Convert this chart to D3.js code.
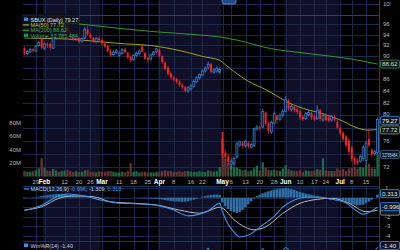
<!DOCTYPE html>
<html>
<head>
<script src="https://d3js.org/d3.v7.min.js"></script>
<style>
  body { margin: 0; background: #000; }
  svg { display: block; font-family: "Liberation Sans", Arial, sans-serif; }
</style>
</head>
<body>
<div id="chart"></div>
<script>
// trading days shown (month number, day numbers)
var months = [
  { m: 1, days: [23,24,25,26,29,30,31] },
  { m: 2, days: [1,2,5,6,7,8,9,12,13,14,15,16,20,21,22,23,26,27,28,29] },
  { m: 3, days: [1,4,5,6,7,8,11,12,13,14,15,18,19,20,21,22,25,26,27,28] },
  { m: 4, days: [1,2,3,4,5,8,9,10,11,12,15,16,17,18,19,22,23,24,25,26,29,30] },
  { m: 5, days: [1,2,3,6,7,8,9,10,13,14,15,16,17,20,21,22,23,24,28,29,30,31] },
  { m: 6, days: [3,4,5,6,7,10,11,12,13,14,17,18,20,21,24,25,26,27,28] },
  { m: 7, days: [1,2,3,5,8,9,10,11,12,15,16,17,18,19] }
];

var tickDates  = ["1-29","2-1","2-12","2-20","2-26","3-1","3-11","3-18","3-25","4-1","4-8","4-16","4-22","5-1","5-6","5-13","5-20","5-28","6-3","6-10","6-17","6-24","7-1","7-8","7-15"];
var tickLabels = ["29","Feb","12","20","26","Mar","11","18","25","Apr","8","16","22","May","6","13","20","28","Jun","10","17","24","Jul","8","15"];

var open = [91.5,90.5,90.8,91.3,91.0,92.0,93.2,91.5,92.2,92.3,91.5,93.4,94.0,93.8,94.5,95.7,94.5,93.5,93.2,93.4,92.8,93.4,95.0,94.0,93.4,92.7,93.3,
  93.0,92.3,91.9,91.0,90.3,90.7,90.2,90.5,91.3,90.6,89.9,89.4,90.2,90.5,91.8,90.6,89.7,89.5,90.3,90.8,
  91.2,90.0,88.9,88.0,87.0,86.2,86.0,85.6,85.0,84.6,84.0,84.3,84.7,85.5,86.2,86.7,87.4,88.0,88.6,87.2,87.4,87.2,
  76.2,74.2,73.6,72.4,72.5,73.5,75.3,75.6,75.2,75.6,75.0,75.2,77.8,78.0,78.1,80.4,78.7,77.3,78.7,79.8,79.3,80.0,
  80.6,82.4,80.9,81.3,80.9,80.6,79.7,79.4,80.0,80.3,79.8,79.4,80.8,79.2,79.8,79.6,79.2,79.7,78.9,
  78.0,77.2,76.6,76.0,74.9,73.4,73.0,72.9,73.3,73.0,76.2,74.6,74.0,74.2];
var close = [90.4,90.9,91.3,91.0,91.9,92.6,91.6,92.3,92.0,91.6,93.5,94.0,93.8,94.6,95.8,94.6,93.6,93.1,93.6,92.7,93.3,95.0,94.1,93.5,92.8,93.3,93.0,
  92.4,91.8,91.0,90.2,90.8,91.0,90.6,91.2,90.8,89.8,89.3,90.2,90.6,91.0,90.9,89.6,89.4,90.3,90.8,91.4,
  90.0,89.0,87.8,86.9,86.3,85.9,85.5,85.0,84.6,84.0,84.5,84.8,85.6,86.2,86.8,87.4,87.9,88.6,87.3,87.6,87.9,87.7,
  74.0,73.5,72.8,72.9,73.3,75.5,75.8,75.2,75.9,75.1,75.4,77.8,78.1,77.9,80.6,78.6,77.5,78.8,80.2,79.2,80.0,80.6,
  82.5,81.0,81.4,80.8,80.5,79.6,79.3,80.2,80.4,79.6,79.2,80.8,79.4,79.9,79.2,79.1,79.8,79.3,78.0,
  77.1,76.2,75.3,74.3,73.2,72.7,72.6,73.6,75.0,75.6,75.3,73.9,74.3,79.27];
var high = [91.8,91.2,91.6,91.5,92.1,92.9,93.7,92.5,92.6,92.5,93.8,94.3,94.4,94.9,96.2,96.0,94.8,93.9,93.9,93.6,93.5,95.5,95.6,94.3,93.6,93.6,93.7,
  93.3,92.6,92.1,91.3,91.1,91.4,90.9,91.5,91.6,90.9,90.1,90.4,90.9,91.3,92.1,90.8,89.9,90.5,91.0,91.6,
  91.4,90.2,89.1,88.3,87.3,86.5,86.2,85.8,85.3,84.8,84.8,85.1,85.9,86.5,87.0,87.7,88.2,89.1,88.8,87.9,88.2,88.0,
  77.3,74.6,74.0,73.3,73.6,75.8,76.0,75.9,76.1,75.9,75.7,78.0,78.4,78.3,81.0,80.6,78.9,79.1,80.6,80.0,80.3,81.0,
  83.1,82.6,81.7,81.6,81.2,80.9,80.0,80.5,80.7,80.5,80.1,81.6,81.0,80.1,80.0,79.9,80.0,80.0,79.2,
  78.2,77.5,76.9,76.4,75.2,73.6,73.3,73.9,75.3,76.0,77.8,74.8,74.6,79.6];
var low = [90.2,90.2,90.6,90.7,90.8,91.8,91.3,91.2,91.6,91.2,91.4,93.1,93.5,93.6,94.3,94.2,93.3,92.8,92.9,92.4,92.5,93.2,93.8,93.2,92.5,92.4,92.6,
  92.1,91.5,90.7,89.9,90.0,90.4,89.9,90.3,90.5,89.5,89.0,89.2,89.9,90.2,90.7,89.3,89.0,89.3,90.1,90.5,
  89.8,88.7,87.5,86.6,86.0,85.6,85.2,84.7,84.3,83.7,83.6,84.0,84.5,85.3,85.9,86.5,87.1,87.7,87.0,86.9,87.1,86.9,
  73.4,73.0,72.4,71.8,72.1,73.3,75.0,74.9,74.9,74.8,74.7,75.0,77.5,77.6,77.9,78.3,77.1,77.0,78.5,78.6,79.0,79.6,
  80.4,80.7,80.5,80.4,80.1,79.2,79.0,79.2,79.7,79.2,79.0,79.2,79.0,78.9,79.0,78.8,78.9,79.0,77.7,
  76.8,75.9,74.9,73.9,72.8,72.3,72.3,72.7,72.9,72.1,75.0,73.6,73.7,73.9];
// volume, millions
var volume = [8,7,7,8,9,12,27,13,9,8,11,9,7,8,9,10,8,7,8,7,7,9,10,7,7,6,8,
  7,7,8,8,7,6,6,7,6,8,20,7,8,6,7,7,6,6,6,7,
  7,8,9,8,8,7,7,8,7,8,8,7,7,7,8,7,7,9,8,7,8,14,
  66,26,20,16,14,13,11,9,10,8,9,12,16,9,21,13,10,9,10,9,8,12,
  17,11,9,8,8,9,7,9,8,8,9,11,10,27,9,8,8,8,12,
  10,11,8,12,13,14,12,14,13,15,19,12,11,32.8];

// moving averages, read at sample days (day index)
var ma50Days = [0,8,15,26,35,44,50,57,62,68,70,73,78,84,88,92,99,104,107,111,114,117,120,123];
var ma50 = [93.4,93.3,93.2,92.7,92.3,92.0,91.5,90.7,90.0,89.3,88.5,87.3,85.6,84.2,83.1,82.0,80.8,80.2,79.7,79.0,78.3,77.8,77.6,77.72];
var ma200Days = [0,15,30,45,60,68,74,86,96,104,113,123];
var ma200 = [97.0,96.3,95.4,94.6,94.0,93.6,93.0,91.4,90.7,90.2,89.6,88.62];

// MACD(12,26,9)
var macdDays = [0,6,12,15,22,26,32,40,46,52,57,60,64,68,69,71,73,75,78,83,87,90,94,98,103,107,112,116,118,120,123];
var macd = [-1.36,-0.8,0.2,0.38,0.1,-0.22,-0.55,-0.66,-0.8,-1.3,-1.9,-1.8,-1.4,-0.6,-1.5,-2.8,-3.6,-4.1,-3.9,-2.85,-1.95,-1.0,-0.25,0.03,0.03,-0.18,-0.56,-1.45,-1.74,-1.55,-0.996];
var signalDays = [0,6,12,17,24,30,38,46,54,61,64,68,69,73,77,80,84,90,96,102,107,113,119,123];
var signal = [-1.29,-0.95,-0.07,0.17,0.09,-0.43,-0.59,-0.77,-1.3,-1.62,-1.4,-1.0,-1.1,-2.3,-3.1,-3.35,-3.05,-1.64,-0.59,-0.18,-0.07,-0.59,-1.47,-1.309];
var hist = [-0.05,-0.02,0.02,0.05,0.08,0.1,0.15,0.2,0.25,0.3,0.33,0.36,0.38,0.38,0.35,0.3,0.25,0.2,0.15,0.1,0.05,0.05,0.05,0.0,-0.03,-0.05,-0.08,
  -0.08,-0.06,-0.05,-0.04,-0.03,-0.02,-0.02,-0.01,0.0,0.01,0.0,-0.02,-0.03,-0.04,-0.05,-0.06,-0.08,-0.1,-0.12,-0.14,
  -0.16,-0.2,-0.25,-0.3,-0.34,-0.37,-0.4,-0.42,-0.43,-0.42,-0.38,-0.3,-0.22,-0.12,-0.02,0.08,0.15,0.22,0.28,0.3,0.32,0.3,
  -0.5,-0.9,-1.2,-1.4,-1.5,-1.6,-1.5,-1.3,-1.0,-0.7,-0.4,-0.1,0.15,0.3,0.45,0.55,0.65,0.75,0.82,0.88,0.93,0.97,
  1.0,0.95,0.88,0.8,0.7,0.6,0.5,0.42,0.35,0.28,0.22,0.16,0.1,0.06,0.03,0.01,-0.02,-0.06,-0.12,
  -0.2,-0.3,-0.42,-0.55,-0.65,-0.74,-0.8,-0.8,-0.75,-0.6,-0.42,-0.22,0.0,0.313];

// Williams %R(14), read at turning days
var wmDays = [0,14,22,40,56,64,69,75,83,86,91,100,112,117,123];
var wm = [-40,-10,-25,-60,-90,-3,-95,-70,-4,-30,-2,-45,-95,-60,-1.4];

// axis ticks (labels hidden behind value boxes are left out)
var priceTicks = [72,74,76,78,80,82,84,86,88,90,92,94,96,100];
var priceLabels = [72,76,80,82,84,86,90,92,94,96,100];
var volTicks = [20, 40, 60, 80];
var macdTicks = [1, 0, -1, -2, -3, -4];
var macdLabels = [1, -2, -3, -4];

var W = 400, H = 250;
var left = 23, right = 379;

var dates = [];
months.forEach(function (mo) {
    mo.days.forEach(function (d) { dates.push(mo.m + "-" + d); });
});

var svg = d3.select("#chart").append("svg")
    .attr("width", W).attr("height", H);

svg.append("rect").attr("width", W).attr("height", H).attr("fill", "#000");

var x = d3.scaleBand().domain(dates).range([left, right]).padding(0);
var bw = x.bandwidth();
function xc(k) { return x(dates[k]) + bw / 2; }

var y = d3.scaleLog().domain([72, 100]).range([167.4, 4]);
var vy = d3.scaleLinear().domain([0, 80]).range([176.5, 122.5]);
var my = d3.scaleLinear().domain([-4, 1]).range([236, 188]);
var wy = d3.scaleLinear().domain([-100, 0]).range([292, 246.5]);

var panels = [[0, 177], [186, 241], [242, 250]];

// month shading (every other month)
months.forEach(function (mo, i) {
    if (i % 2 === 0) return;
    var x0 = x(mo.m + "-" + mo.days[0]);
    var x1 = x(mo.m + "-" + mo.days[mo.days.length - 1]) + bw;
    panels.forEach(function (p) {
        svg.append("rect").attr("x", x0).attr("y", p[0])
            .attr("width", x1 - x0).attr("height", p[1] - p[0])
            .attr("fill", "#0f0f27");
    });
});

var gridColor = "#16294a";

// vertical grid
tickDates.forEach(function (d) {
    var gx = Math.round(x(d) + bw / 2) + 0.5;
    panels.forEach(function (p) {
        svg.append("line").attr("x1", gx).attr("x2", gx).attr("y1", p[0]).attr("y2", p[1])
            .attr("stroke", gridColor);
    });
});

// price grid
svg.selectAll(".pg").data(priceTicks).enter().append("line")
    .attr("x1", left).attr("x2", right)
    .attr("y1", function (d) { return Math.round(y(d)) + 0.5; })
    .attr("y2", function (d) { return Math.round(y(d)) + 0.5; })
    .attr("stroke", gridColor);

svg.append("line").attr("x1", left).attr("x2", right).attr("y1", 15.5).attr("y2", 15.5)
    .attr("stroke", "#2c3f60");

// macd grid
svg.selectAll(".mg").data(macdTicks).enter().append("line")
    .attr("x1", left).attr("x2", right)
    .attr("y1", function (d) { return Math.round(my(d)) + 0.5; })
    .attr("y2", function (d) { return Math.round(my(d)) + 0.5; })
    .attr("stroke", gridColor);

// panel frames
svg.append("line").attr("x1", right + 0.5).attr("x2", right + 0.5).attr("y1", 0).attr("y2", H)
    .attr("stroke", "#23406a");
svg.append("line").attr("x1", left).attr("x2", right).attr("y1", 186.5).attr("y2", 186.5)
    .attr("stroke", "#1d3357");
svg.append("line").attr("x1", left).attr("x2", right).attr("y1", 241.5).attr("y2", 241.5)
    .attr("stroke", "#1d3357");

// clips
var defs = svg.append("defs");
defs.append("clipPath").attr("id", "cp").append("rect")
    .attr("x", left).attr("y", 0).attr("width", right - left).attr("height", 177);
defs.append("clipPath").attr("id", "cm").append("rect")
    .attr("x", left).attr("y", 186).attr("width", right - left).attr("height", 55);
defs.append("clipPath").attr("id", "cw").append("rect")
    .attr("x", left).attr("y", 242).attr("width", right - left).attr("height", 8);
defs.append("clipPath").attr("id", "cl").append("rect")
    .attr("x", 380).attr("y", 0).attr("width", 10.5).attr("height", 10);

// volume
var gp = svg.append("g").attr("clip-path", "url(#cp)");
gp.selectAll(".vol").data(volume).enter().append("rect")
    .attr("x", function (d, i) { return x(dates[i]) + 0.3; })
    .attr("width", bw - 0.6)
    .attr("y", function (d) { return vy(d); })
    .attr("height", function (d) { return vy(0) - vy(d); })
    .attr("fill", function (d, i) { return close[i] >= open[i] ? "#1f6a45" : "#663434"; });

// moving averages
var line = d3.line().curve(d3.curveMonotoneX);
gp.append("path")
    .attr("d", line(ma200Days.map(function (k, i) { return [xc(k), y(ma200[i])]; })))
    .attr("fill", "none").attr("stroke", "#2f9a2f").attr("stroke-width", 1);
gp.append("path")
    .attr("d", line(ma50Days.map(function (k, i) { return [xc(k), y(ma50[i])]; })))
    .attr("fill", "none").attr("stroke", "#a3a021").attr("stroke-width", 1);

// candles
var candles = gp.selectAll(".c").data(dates).enter().append("g");
candles.append("line")
    .attr("x1", function (d, i) { return xc(i); })
    .attr("x2", function (d, i) { return xc(i); })
    .attr("y1", function (d, i) { return y(high[i]); })
    .attr("y2", function (d, i) { return y(low[i]); })
    .attr("stroke", function (d, i) { return close[i] >= open[i] ? "#3f86d8" : "#ff2222"; })
    .attr("stroke-width", 0.8);
candles.append("rect")
    .attr("x", function (d, i) { return x(d) + 0.45; })
    .attr("width", bw - 0.9)
    .attr("y", function (d, i) { return y(Math.max(open[i], close[i])); })
    .attr("height", function (d, i) { return Math.max(1, Math.abs(y(open[i]) - y(close[i]))); })
    .attr("fill", function (d, i) { return close[i] >= open[i] ? "#0a1a35" : "#ff2020"; })
    .attr("stroke", function (d, i) { return close[i] >= open[i] ? "#3f86d8" : "none"; })
    .attr("stroke-width", 0.7);

// MACD panel
var gm = svg.append("g").attr("clip-path", "url(#cm)");
gm.selectAll(".h").data(hist).enter().append("rect")
    .attr("x", function (d, i) { return x(dates[i]); })
    .attr("width", bw - 0.3)
    .attr("y", function (d) { return Math.min(my(d), my(0)); })
    .attr("height", function (d) { return Math.abs(my(d) - my(0)); })
    .attr("fill", "#2f6ea6");
gm.append("path")
    .attr("d", line(signalDays.map(function (k, i) { return [xc(k), my(signal[i])]; })))
    .attr("fill", "none").attr("stroke", "#b8b8b8").attr("stroke-width", 1);
gm.append("path")
    .attr("d", line(macdDays.map(function (k, i) { return [xc(k), my(macd[i])]; })))
    .attr("fill", "none").attr("stroke", "#3b93e6").attr("stroke-width", 1.1);

// Wm%R panel
svg.append("g").attr("clip-path", "url(#cw)").append("path")
    .attr("d", d3.line()(wmDays.map(function (k, i) { return [xc(k), wy(wm[i])]; })))
    .attr("fill", "none").attr("stroke", "#3b93e6").attr("stroke-width", 1);

// event marker
svg.append("rect").attr("x", 222).attr("y", -3).attr("width", 14).attr("height", 7).attr("rx", 2)
    .attr("fill", "#1d4b86").attr("stroke", "#5aa0e0").attr("stroke-width", 0.8);

// x axis labels
var months3 = ["Feb","Mar","Apr","May","Jun","Jul"];
function isMonth(i) { return months3.indexOf(tickLabels[i]) >= 0; }
svg.selectAll(".xl").data(tickDates).enter().append("text")
    .attr("x", function (d) { return x(d) + bw / 2; })
    .attr("y", 184)
    .attr("text-anchor", "middle")
    .attr("font-size", function (d, i) { return isMonth(i) ? 6.5 : 6; })
    .attr("font-weight", function (d, i) { return isMonth(i) ? "bold" : "normal"; })
    .attr("fill", function (d, i) { return isMonth(i) ? "#ffffff" : "#b8b8b8"; })
    .text(function (d, i) { return tickLabels[i]; });

// right price labels
svg.selectAll(".pl").data(priceLabels).enter().append("text")
    .attr("clip-path", function (d) { return d === 100 ? "url(#cl)" : null; })
    .attr("x", 383).attr("y", function (d) { return y(d) + (d === 80 ? 1 : 2); })
    .attr("font-size", 6).attr("fill", "#b8b8b8")
    .text(function (d) { return d; });

// left volume labels
svg.selectAll(".vl").data(volTicks).enter().append("text")
    .attr("x", 21).attr("y", function (d) { return vy(d) + 2; })
    .attr("text-anchor", "end").attr("font-size", 6).attr("fill", "#b8b8b8")
    .text(function (d) { return d + "M"; });

// macd labels
svg.selectAll(".ml").data(macdLabels).enter().append("text")
    .attr("x", 385).attr("y", function (d) { return my(d) + 2; })
    .attr("font-size", 6).attr("fill", "#b8b8b8")
    .text(function (d) { return d; });

// value boxes on the right
function box(val, yy, border, color, squeeze) {
    svg.append("rect").attr("x", 380.5).attr("y", yy - 4).attr("width", 19).attr("height", 8).attr("rx", 1.5)
        .attr("fill", "#0a1322").attr("stroke", border).attr("stroke-width", 0.8);
    if (val === null) return;
    var t = svg.append("text").attr("x", 382).attr("y", yy + 2.2)
        .attr("font-size", 6.2).attr("fill", color).text(val);
    if (squeeze) t.attr("font-size", 5.6).attr("textLength", 15.5).attr("lengthAdjust", "spacingAndGlyphs");
}
box("88.62", y(88.62), "#2f9a2f", "#d8e8d8");
box("79.27", y(79.27) + 0.8, "#3f86d8", "#ffffff");
box("77.72", y(77.72) + 0.5, "#a3a021", "#e8e8c0");
box("32785484", vy(32.8), "#3f6a9a", "#c8d4e4", true);
box("0.313", my(0.313) - 1, "#3b93e6", "#dde8f4");
box(null, my(-1.309) + 1, "#9a9a9a", "#e0e0e0");
box("-0.996", my(-0.996) - 0.5, "#3b93e6", "#e0e8f4");
box("-1.40", 245.5, "#3b93e6", "#e0e8f4");

// legend
svg.append("rect").attr("x", 22).attr("y", 14).attr("width", 57).attr("height", 24)
    .attr("fill", "#10141c").attr("opacity", 0.75);
var leg = [
    { t: "SBUX (Daily) 79.27", c: "#dfe6f0", k: "candle" },
    { t: "MA(50) 77.72", c: "#c8c43a", k: "#a3a021" },
    { t: "MA(200) 88.62", c: "#3fb03f", k: "#2f9a2f" },
    { t: "Volume 32,785,484", c: "#2fb06a", k: "vol" }
];
leg.forEach(function (l, i) {
    var ly = 19.5 + i * 5.4;
    if (l.k === "candle") {
        svg.append("rect").attr("x", 24).attr("y", ly - 2).attr("width", 4).attr("height", 3.5)
            .attr("fill", "#3f86d8");
    } else if (l.k === "vol") {
        svg.append("rect").attr("x", 24).attr("y", ly - 2).attr("width", 4).attr("height", 3.5)
            .attr("fill", "#1f8a55");
    } else {
        svg.append("line").attr("x1", 23).attr("x2", 29).attr("y1", ly).attr("y2", ly)
            .attr("stroke", l.k).attr("stroke-width", 1.3);
    }
    svg.append("text").attr("x", 30.5).attr("y", ly + 2)
        .attr("font-size", 5.5).attr("fill", l.c).text(l.t);
});

// MACD legend
svg.append("line").attr("x1", 24).attr("x2", 29).attr("y1", 189).attr("y2", 189)
    .attr("stroke", "#3b93e6").attr("stroke-width", 1.2);
var mt = svg.append("text").attr("x", 30.5).attr("y", 191).attr("font-size", 5.5);
mt.append("tspan").attr("fill", "#c8d2e0").text("MACD(12,26,9) ");
mt.append("tspan").attr("fill", "#4a9ae6").text("-0.996");
mt.append("tspan").attr("fill", "#c8d2e0").text(", -1.309, ");
mt.append("tspan").attr("fill", "#4a9ae6").text("0.313");

// Wm%R legend
svg.append("rect").attr("x", 24).attr("y", 243.5).attr("width", 4).attr("height", 3.5)
    .attr("fill", "#3b93e6");
svg.append("text").attr("x", 30.5).attr("y", 247.5).attr("font-size", 5.5)
    .attr("fill", "#c8d2e0").text("Wm%R(14) -1.40");
</script>
</body>
</html>
